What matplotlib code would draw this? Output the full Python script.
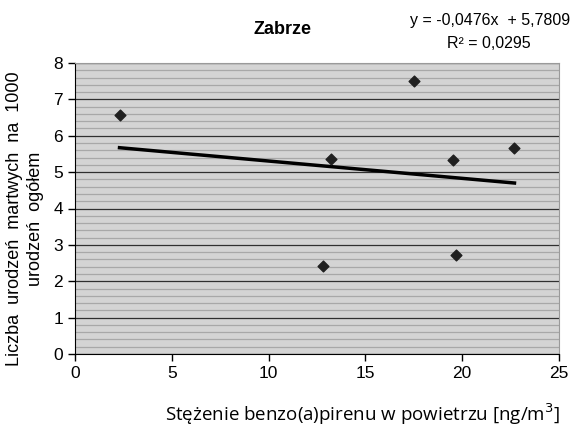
import matplotlib
matplotlib.use('Agg')
import matplotlib.pyplot as plt
import numpy as np
from matplotlib.ticker import MultipleLocator

# data
x_vals = [2.3, 12.8, 13.2, 17.5, 19.5, 19.7, 22.7]
y_vals = [6.58, 2.42, 5.37, 7.5, 5.33, 2.72, 5.66]
slope = -0.0476
intercept = 5.7809
r2 = 0.0295

plt.rcParams['font.family'] = ['Liberation Sans', 'DejaVu Sans']

fig = plt.figure(figsize=(5.71, 4.28), dpi=100)
ax = fig.add_axes([75 / 571, 1 - 354 / 428, (559 - 75) / 571, (354 - 63) / 428])
ax.set_facecolor('#d4d4d4')

ax.set_xlim(0, 25)
ax.set_ylim(0, 8)
ax.xaxis.set_major_locator(MultipleLocator(5))
ax.yaxis.set_major_locator(MultipleLocator(1))
ax.yaxis.set_minor_locator(MultipleLocator(0.2))
ax.grid(axis='y', which='major', color='#303030', lw=0.9)
ax.grid(axis='y', which='minor', color='#a8a8a8', lw=0.9)
ax.set_axisbelow(True)
ax.tick_params(axis='y', which='minor', length=0)
ax.tick_params(axis='both', which='major', direction='out', length=5, width=1,
               labelsize=12.5, color='black')
for s in ['top', 'right']:
    ax.spines[s].set_color('#9a9a9a')
for s in ['left', 'bottom']:
    ax.spines[s].set_color('black')

ax.scatter(x_vals, y_vals, marker='D', s=30, color='#202020', zorder=3)

xt = np.array([min(x_vals), max(x_vals)])
ax.plot(xt, slope * xt + intercept, color='black', lw=2.5, zorder=2)

fig.text(283 / 571, 1 - 30 / 428, 'Zabrze', ha='center', va='center',
         fontsize=13, fontweight='bold')
eq = 'y = ' + f'{slope:.4f}'.replace('.', ',') + 'x  + ' + f'{intercept:.4f}'.replace('.', ',')
fig.text(490 / 571, 1 - 21 / 428, eq, ha='center', va='center', fontsize=11.5)
fig.text(489 / 571, 1 - 43 / 428, 'R² = ' + f'{r2:.4f}'.replace('.', ','),
         ha='center', va='center', fontsize=11.5)

fig.text(15 / 571, 1 - 219 / 428, 'Liczba  urodzeń  martwych  na  1000', rotation=90,
         ha='center', va='center', fontsize=13)
fig.text(36 / 571, 1 - 219 / 428, 'urodzeń  ogółem', rotation=90,
         ha='center', va='center', fontsize=13)
fig.text(362 / 571, 1 - 414 / 428, 'Stężenie benzo(a)pirenu w powietrzu [ng/m$^3$]',
         ha='center', va='center', fontsize=13.5, family=['Open Sans', 'DejaVu Sans'])

fig.savefig('out.png', dpi=100)
